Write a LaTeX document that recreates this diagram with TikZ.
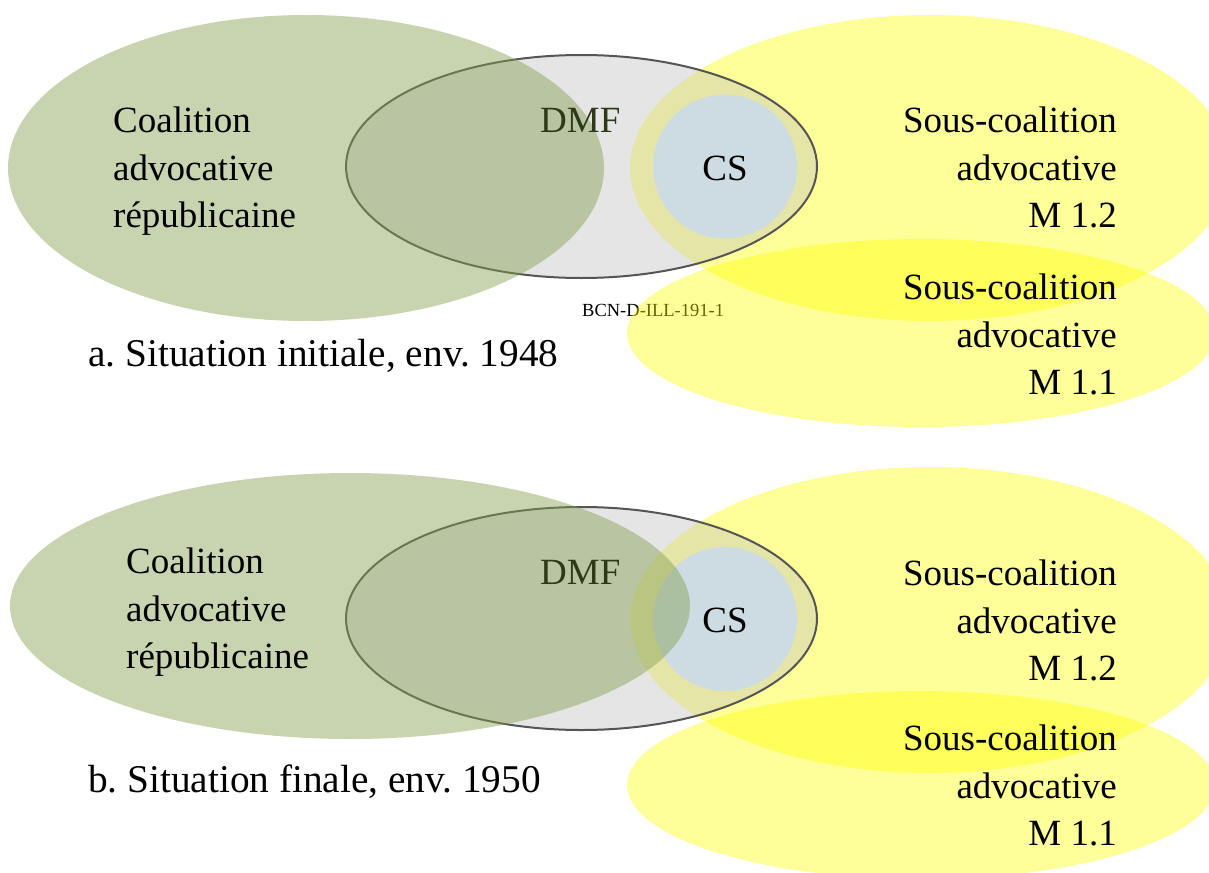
\documentclass[tikz,border=0pt]{standalone}
\usepackage{fontspec}
\setmainfont{Liberation Serif}
\frenchspacing
\definecolor{subyellow}{RGB}{255,255,0}
\definecolor{coalgreen}{RGB}{133,160,80}
\definecolor{dmfgrey}{RGB}{190,190,190}
\definecolor{dmfline}{RGB}{85,85,85}
\definecolor{csblue}{RGB}{204,220,226}
\definecolor{dmftext}{RGB}{45,58,25}
\tikzset{
  subco/.style={fill=subyellow, fill opacity=0.4},
  dmfset/.style={fill=dmfgrey, fill opacity=0.4, draw=dmfline, line width=2pt},
  csset/.style={fill=csblue},
  repset/.style={fill=coalgreen, fill opacity=0.45},
  biglabel/.style={inner sep=0pt, font=\fontsize{37}{47.5}\selectfont},
  caption/.style={inner sep=0pt, anchor=base west, font=\fontsize{39.3}{46}\selectfont},
  refcode/.style={inner sep=0pt, anchor=base west, font=\fontsize{18.5}{22}\selectfont}
}
\begin{document}
\begin{tikzpicture}[x=1pt,y=-1pt]
\useasboundingbox (0,0) rectangle (1209,872);
\clip (0,0) rectangle (1209,872);

% ---------- a. initial situation ----------
\node[refcode] (codeA) at (582,316) {BCN-D-ILL-191-1};
\fill[subco] (930,168) ellipse [x radius=300, y radius=153];
\fill[subco] (921,333) ellipse [x radius=294, y radius=94];
\path[dmfset] (581.5,166.5) ellipse [x radius=235.5, y radius=111.5];
\fill[csset] (725,166.5) circle [radius=72];
\fill[repset] (306,168) ellipse [x radius=298, y radius=153];

\node[biglabel, anchor=north west, align=left] (repA) at (113,106.7)
  {Coalition\\advocative\\républicaine};
\node[biglabel, anchor=base west, text=dmftext] (dmfA) at (540,132) {DMF};
\node[biglabel, anchor=base] (csA) at (725,180) {CS};
\node[biglabel, anchor=north east, align=right] (m12A) at (1117,106.7)
  {Sous-coalition\\advocative\\M 1.2};
\node[biglabel, anchor=north east, align=right] (m11A) at (1117,273.7)
  {Sous-coalition\\advocative\\M 1.1};
\node[caption] (capA) at (88,366) {a. Situation initiale, env. 1948};

% ---------- b. final situation ----------
\fill[subco] (930,620) ellipse [x radius=300, y radius=153];
\fill[subco] (921,785) ellipse [x radius=294, y radius=94];
\path[dmfset] (581.5,618.5) ellipse [x radius=235.5, y radius=111.5];
\fill[csset] (725,619) circle [radius=72];
\fill[repset] (350,606) ellipse [x radius=340, y radius=133];

\node[biglabel, anchor=north west, align=left] (repB) at (126,547.7)
  {Coalition\\advocative\\républicaine};
\node[biglabel, anchor=base west, text=dmftext] (dmfB) at (540,584) {DMF};
\node[biglabel, anchor=base] (csB) at (725,632) {CS};
\node[biglabel, anchor=north east, align=right] (m12B) at (1117,559.7)
  {Sous-coalition\\advocative\\M 1.2};
\node[biglabel, anchor=north east, align=right] (m11B) at (1117,724.7)
  {Sous-coalition\\advocative\\M 1.1};
\node[caption] (capB) at (88,792) {b. Situation finale, env. 1950};
\end{tikzpicture}
\end{document}
